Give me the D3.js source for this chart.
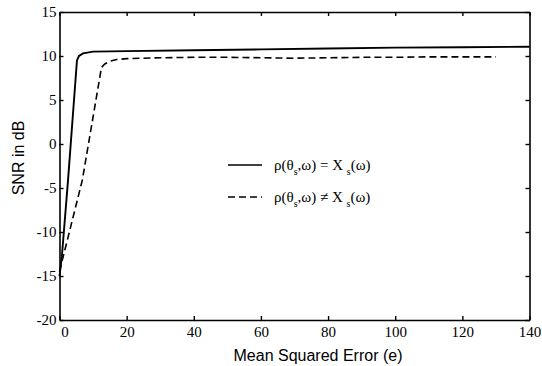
<!DOCTYPE html>
<html>
<head>
<meta charset="utf-8">
<script src="https://cdn.jsdelivr.net/npm/d3@7"></script>
<style>
  body { margin: 0; background: #fff; }
  svg { display: block; }
</style>
</head>
<body>
<svg id="chart" width="542" height="366"></svg>
<script>
// Data
const xTicks = [0, 20, 40, 60, 80, 100, 120, 140];
const yTicks = [-20, -15, -10, -5, 0, 5, 10, 15];

const solidX = [0, 0.7, 2.5, 5.2, 5.8, 7, 10, 20, 40, 60, 80, 100, 120, 140];
const solidY = [-15, -12.8, -4.3, 9.5, 10.0, 10.3, 10.5, 10.55, 10.65, 10.75, 10.85, 10.95, 11.0, 11.05];

const dashedX = [0, 1.1, 6.8, 12.5, 13.5, 15, 17, 20, 30, 40, 50, 60, 70, 80, 90, 100, 110, 120, 130];
const dashedY = [-14.5, -12.8, -4.1, 8.7, 9.1, 9.4, 9.6, 9.7, 9.8, 9.85, 9.85, 9.8, 9.75, 9.8, 9.85, 9.85, 9.9, 9.9, 9.9];

const svg = d3.select('#chart');
const plotLeft = 59.5, plotRight = 529.5, plotTop = 12, plotBottom = 320;

const x = d3.scaleLinear().domain([0, 140]).range([plotLeft, plotRight]);
const y = d3.scaleLinear().domain([-20, 15]).range([plotBottom, plotTop]);

const serif = 'Liberation Serif';
const sans = 'Liberation Sans';
const plain = d => String(d); // hyphen minus, as in the original

// Axes with inward ticks on all four sides
const axisB = svg.append('g').attr('transform', `translate(0,${plotBottom})`)
  .call(d3.axisBottom(x).tickValues(xTicks).tickFormat(plain).tickSizeInner(-4).tickSizeOuter(0).tickPadding(6));
const axisT = svg.append('g').attr('transform', `translate(0,${plotTop})`)
  .call(d3.axisTop(x).tickValues(xTicks).tickSizeInner(-4).tickSizeOuter(0).tickFormat(''));
const axisL = svg.append('g').attr('transform', `translate(${plotLeft},0)`)
  .call(d3.axisLeft(y).tickValues(yTicks).tickFormat(plain).tickSizeInner(-4).tickSizeOuter(0).tickPadding(3));
const axisR = svg.append('g').attr('transform', `translate(${plotRight},0)`)
  .call(d3.axisRight(y).tickValues(yTicks).tickSizeInner(-4).tickSizeOuter(0).tickFormat(''));

[axisB, axisT, axisL, axisR].forEach(g => {
  g.attr('font-family', serif).attr('font-size', 15);
  g.select('.domain').attr('stroke', '#000').attr('stroke-width', 1.6);
  g.selectAll('.tick line').attr('stroke', '#000').attr('stroke-width', 1.4);
  g.selectAll('.tick text').attr('fill', '#000');
});
// the "0" label sits a little right of its tick in the original
axisB.selectAll('.tick text').filter(d => d === 0).attr('dx', 5);

// Curves
const line = d3.line().x(d => x(d[0])).y(d => y(d[1]));

svg.append('path')
  .datum(d3.zip(solidX, solidY))
  .attr('d', line)
  .attr('fill', 'none')
  .attr('stroke', '#000')
  .attr('stroke-width', 1.9);

svg.append('path')
  .datum(d3.zip(dashedX, dashedY))
  .attr('d', line)
  .attr('fill', 'none')
  .attr('stroke', '#000')
  .attr('stroke-width', 1.6)
  .attr('stroke-dasharray', '7,4');

// Legend
const legend = svg.append('g').attr('font-family', serif).attr('font-size', 15);
legend.append('line')
  .attr('x1', 228).attr('x2', 262).attr('y1', 165).attr('y2', 165)
  .attr('stroke', '#000').attr('stroke-width', 1.6);
legend.append('line')
  .attr('x1', 228).attr('x2', 262).attr('y1', 197).attr('y2', 197)
  .attr('stroke', '#000').attr('stroke-width', 1.6).attr('stroke-dasharray', '7,4');

function legendText(yPos, op) {
  const t = legend.append('text').attr('x', 274).attr('y', yPos);
  t.append('tspan').text('ρ(θ');
  t.append('tspan').attr('dy', 5).attr('font-size', 10).text('s');
  t.append('tspan').attr('dy', -5).text(`,ω) ${op} X `);
  t.append('tspan').attr('dy', 5).attr('font-size', 10).text('s');
  t.append('tspan').attr('dy', -5).text('(ω)');
}
legendText(170, '=');
legendText(202, '≠');

// Axis titles
svg.append('text')
  .attr('x', 318).attr('y', 361)
  .attr('text-anchor', 'middle')
  .attr('font-family', sans).attr('font-size', 16)
  .text('Mean Squared Error (e)');

svg.append('text')
  .attr('transform', 'translate(24,158) rotate(-90)')
  .attr('text-anchor', 'middle')
  .attr('font-family', sans).attr('font-size', 16)
  .text('SNR in dB');
</script>
</body>
</html>
